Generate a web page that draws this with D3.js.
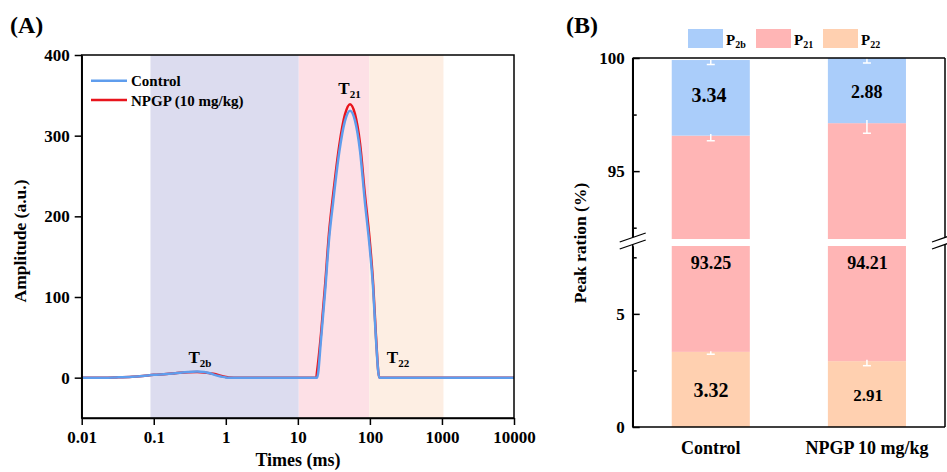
<!DOCTYPE html>
<html>
<head>
<meta charset="utf-8">
<script src="https://cdn.jsdelivr.net/npm/d3@7"></script>
<style>
  body { margin: 0; background: #fff; }
  svg { display: block; font-family: "Liberation Serif", "Times New Roman", serif; font-weight: bold; }
</style>
</head>
<body>
<svg id="chart" width="947" height="472"></svg>
<script>
'use strict';

// ---- panel A data (T2 relaxation curves) ----
const timeMs = [0.01, 0.02, 0.03, 0.05, 0.07, 0.1, 0.15, 0.2, 0.3, 0.4, 0.5, 0.6, 0.7, 0.8, 0.9, 1.0, 1.1, 1.3,
  18, 18.5, 21, 24, 27, 31, 37.6, 45, 53, 62, 73, 85, 99, 111, 121, 135, 10000];
const controlAmp = [0, 0, 0.3, 1, 2, 3.5, 4.5, 5.5, 7, 7.5, 7, 5.5, 3.5, 2, 1, 0.3, 0, 0,
  0, 0, 48, 109, 170, 219, 280, 318, 331, 319, 281, 219, 163, 110, 50, 0, 0];
const npgpAmp = [0, 0, 0.3, 1, 2, 3.5, 4.5, 5.5, 6.8, 7, 6.5, 5.5, 4.5, 3, 1.8, 0.8, 0.2, 0,
  0, 8, 55, 117, 178, 228, 288, 326, 339, 327, 290, 228, 172, 116, 54, 0, 0];

const regionFrom = [0.09, 10.3, 98];
const regionTo = [10.3, 98, 1050];
const xTicksA = [0.01, 0.1, 1, 10, 100, 1000, 10000];
const yTicksA = [0, 100, 200, 300, 400];

// ---- panel B data (peak ratios) ----
const groups = ["Control", "NPGP 10 mg/kg"];
const p22 = [3.32, 2.91];
const p21 = [93.25, 94.21];
const p2b = [3.34, 2.88];
const errP22 = [0.1, 0.2];
const errP21 = [0.23, 0.45];
const errP2b = [0.2, 0.22];

const regionColors = ["#dcdcef", "#fde0e6", "#fdeee3"];
const barColors = { p22: "#ffd0b0", p21: "#ffb5b5", p2b: "#aacdfa" };
const blueLine = "#5f9ded", redLine = "#e8141c";

var svg = d3.select("#chart");

function styleAxis(g, size) {
  g.selectAll("path, line").attr("stroke", "#000").attr("stroke-width", 1.5);
  g.selectAll("text").attr("fill", "#000").style("font-size", size + "px")
    .style("font-family", "Liberation Serif, serif").style("font-weight", "bold");
}

// ================= panel A =================
var x = d3.scaleLog().domain([0.01, 10000]).range([81.7, 514]);
var y = d3.scaleLinear().domain([-50, 400]).range([418, 55]);

svg.selectAll("rect.region")
  .data(regionFrom)
  .enter().append("rect")
    .attr("class", "region")
    .attr("x", d => x(d))
    .attr("y", y(400))
    .attr("width", (d, i) => x(regionTo[i]) - x(d))
    .attr("height", y(-50) - y(400))
    .attr("fill", (d, i) => regionColors[i]);

var line = d3.line()
  .x(d => x(d.t))
  .y(d => y(d.v))
  .curve(d3.curveMonotoneX);

let npgpPts = timeMs.map((t, i) => ({ t: t, v: npgpAmp[i] }));
let ctrlPts = timeMs.map((t, i) => ({ t: t, v: controlAmp[i] }));

svg.append("path").datum(npgpPts)
  .attr("d", line).attr("fill", "none").attr("stroke", redLine).attr("stroke-width", 2.5);
svg.append("path").datum(ctrlPts)
  .attr("d", line).attr("fill", "none").attr("stroke", blueLine).attr("stroke-width", 2.5);

// axes
var axA = svg.append("g").attr("transform", "translate(0,418)")
  .call(d3.axisBottom(x).tickValues(xTicksA).tickFormat(d => String(d)).tickSize(7).tickPadding(6).tickSizeOuter(0));
styleAxis(axA, 17);
var ayA = svg.append("g").attr("transform", "translate(81.7,0)")
  .call(d3.axisLeft(y).tickValues(yTicksA).tickSize(7).tickPadding(5).tickSizeOuter(0));
styleAxis(ayA, 17);

// frame
svg.append("rect")
  .attr("x", 81.7).attr("y", 55).attr("width", 514 - 81.7).attr("height", 418 - 55)
  .attr("fill", "none").attr("stroke", "#000").attr("stroke-width", 1.5);

svg.append("text").attr("x", 298).attr("y", 466).attr("text-anchor", "middle")
  .style("font-size", "18px").text("Times (ms)");
svg.append("text").attr("transform", "translate(26,241) rotate(-90)").attr("text-anchor", "middle")
  .style("font-size", "17.5px").text("Amplitude (a.u.)");

svg.append("text").attr("x", 10).attr("y", 33).style("font-size", "24px").text("(A)");

// peak labels with subscripts
function subLabel(cx, by, main, sub, size, subSize) {
  let t = svg.append("text").attr("x", cx).attr("y", by).attr("text-anchor", "middle")
    .style("font-size", size + "px");
  t.append("tspan").text(main);
  t.append("tspan").attr("dy", 4).style("font-size", subSize + "px").text(sub);
  return t;
}
subLabel(200, 363, "T", "2b", 17, 11);
subLabel(349.5, 94, "T", "21", 17, 11);
subLabel(398, 363, "T", "22", 17, 11);

// legend A
let legA = [{ name: "Control", c: blueLine, y: 80.7 }, { name: "NPGP (10 mg/kg)", c: redLine, y: 100 }];
legA.forEach(function (d) {
  svg.append("line").attr("x1", 91).attr("x2", 127).attr("y1", d.y).attr("y2", d.y)
    .attr("stroke", d.c).attr("stroke-width", 2.5);
  svg.append("text").attr("x", 131).attr("y", d.y + 5.5).style("font-size", "15px").text(d.name);
});

// ================= panel B =================
var left = 632.7, right = 945;
var xB = d3.scaleBand().domain(groups).range([left, right]).paddingInner(0.5).paddingOuter(0.25);
var yUp = d3.scaleLinear().domain([92, 100]).range([239, 58]);
var yLo = d3.scaleLinear().domain([0, 8]).range([427, 246]);

var defs = svg.append("defs");
defs.append("clipPath").attr("id", "clipUp").append("rect")
  .attr("x", left).attr("y", 58).attr("width", right - left).attr("height", 239 - 58);
defs.append("clipPath").attr("id", "clipLo").append("rect")
  .attr("x", left).attr("y", 246).attr("width", right - left).attr("height", 427 - 246);

let table = groups.map((g, i) => ({ group: g, p22: p22[i], p21: p21[i], p2b: p2b[i] }));
let errs = { p22: errP22, p21: errP21, p2b: errP2b };
var stack = d3.stack().keys(["p22", "p21", "p2b"]);
var series = stack(table);

[{ s: yUp, clip: "clipUp" }, { s: yLo, clip: "clipLo" }].forEach(function (seg) {
  let g = svg.append("g").attr("clip-path", "url(#" + seg.clip + ")");
  g.selectAll("g").data(series).enter().append("g")
    .attr("fill", d => barColors[d.key])
    .selectAll("rect").data(d => d).enter().append("rect")
      .attr("x", d => xB(d.data.group))
      .attr("width", xB.bandwidth())
      .attr("y", d => seg.s(d[1]))
      .attr("height", d => seg.s(d[0]) - seg.s(d[1]));

  // error bars (minus direction, white)
  series.forEach(function (ser) {
    ser.forEach(function (d, i) {
      let cx = xB(d.data.group) + xB.bandwidth() / 2;
      let e = errs[ser.key][i];
      g.append("line").attr("x1", cx).attr("x2", cx)
        .attr("y1", seg.s(d[1] + e * 0.3)).attr("y2", seg.s(d[1] - e))
        .attr("stroke", "#fff").attr("stroke-width", 1.5);
      g.append("line").attr("x1", cx - 4).attr("x2", cx + 4)
        .attr("y1", seg.s(d[1] - e)).attr("y2", seg.s(d[1] - e))
        .attr("stroke", "#fff").attr("stroke-width", 1.5);
    });
  });
});

// value labels
const labelSize = [[20, 18], [18, 18], [20, 17]];
const labelY = [[101.7, 98.3], [269, 269], [397, 401]];
const labelX = [[709, 866.7], [711, 867.5], [711, 868]];
[p2b, p21, p22].forEach(function (arr, k) {
  arr.forEach(function (v, i) {
    svg.append("text").attr("x", labelX[k][i]).attr("y", labelY[k][i]).attr("text-anchor", "middle")
      .style("font-size", labelSize[k][i] + "px").text(d3.format(".2f")(v));
  });
});

// axes B
var ayUp = svg.append("g").attr("transform", "translate(" + left + ",0)")
  .call(d3.axisLeft(yUp).tickValues([95, 100]).tickSize(-7).tickPadding(8).tickSizeOuter(0));
styleAxis(ayUp, 17);
var ayUpMinor = svg.append("g").attr("transform", "translate(" + left + ",0)")
  .call(d3.axisLeft(yUp).tickValues([92.5, 97.5]).tickSize(-4).tickFormat("").tickSizeOuter(0));
styleAxis(ayUpMinor, 17);
var ayLo = svg.append("g").attr("transform", "translate(" + left + ",0)")
  .call(d3.axisLeft(yLo).tickValues([0, 5]).tickSize(-7).tickPadding(8).tickSizeOuter(0));
styleAxis(ayLo, 17);
var ayLoMinor = svg.append("g").attr("transform", "translate(" + left + ",0)")
  .call(d3.axisLeft(yLo).tickValues([2.5, 7.5]).tickSize(-4).tickFormat("").tickSizeOuter(0));
styleAxis(ayLoMinor, 17);
var axB = svg.append("g").attr("transform", "translate(0,427)")
  .call(d3.axisBottom(xB).tickSize(0).tickPadding(14).tickSizeOuter(0));
styleAxis(axB, 18);
axB.select(".domain").remove();

// frame B (left/right axis lines, top and bottom)
svg.append("line").attr("x1", left).attr("x2", right).attr("y1", 58).attr("y2", 58)
  .attr("stroke", "#000").attr("stroke-width", 1.5);
svg.append("line").attr("x1", left).attr("x2", right).attr("y1", 427).attr("y2", 427)
  .attr("stroke", "#000").attr("stroke-width", 1.5);
[left, right].forEach(function (ax) {
  svg.append("line").attr("x1", ax).attr("x2", ax).attr("y1", 58).attr("y2", 427)
    .attr("stroke", "#000").attr("stroke-width", 1.5);
  // axis break marks
  let yc = 242.5;
  svg.append("polygon")
    .attr("points", [[ax - 13, yc - 0.5], [ax + 13, yc - 9.5], [ax + 13, yc - 2.5], [ax - 13, yc + 6.5]].join(" "))
    .attr("fill", "#fff");
  [-3.5, 3.5].forEach(function (o) {
    svg.append("line").attr("x1", ax - 13).attr("y1", yc + 3 + o).attr("x2", ax + 13).attr("y2", yc - 6 + o)
      .attr("stroke", "#000").attr("stroke-width", 1.3);
  });
});

svg.append("text").attr("transform", "translate(586,243) rotate(-90)").attr("text-anchor", "middle")
  .style("font-size", "17.5px").text("Peak ration (%)");
svg.append("text").attr("x", 566).attr("y", 33).style("font-size", "24px").text("(B)");

// legend B
const legKeys = ["p2b", "p21", "p22"];
const legSub = ["2b", "21", "22"];
const legX = [688, 756, 823];
legKeys.forEach(function (k, i) {
  svg.append("rect").attr("x", legX[i]).attr("y", 29).attr("width", 35).attr("height", 19)
    .attr("fill", barColors[k]);
  let t = svg.append("text").attr("x", legX[i] + 38).attr("y", 44.5).style("font-size", "15px");
  t.append("tspan").text("P");
  t.append("tspan").attr("dy", 3).style("font-size", "10px").text(legSub[i]);
});
</script>
</body>
</html>
